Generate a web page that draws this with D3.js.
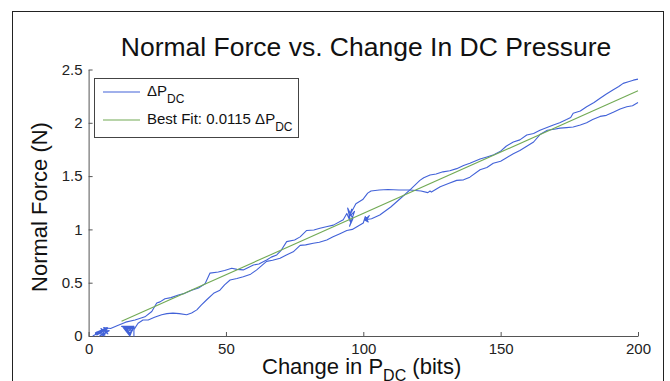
<!DOCTYPE html>
<html>
<head>
<meta charset="utf-8">
<script src="https://cdn.jsdelivr.net/npm/d3@7"></script>
<style>
  html, body { margin: 0; padding: 0; background: #fff; }
  svg { display: block; font-family: "Liberation Sans", Arial, sans-serif; }
</style>
</head>
<body>
<script>
// Branch that starts near the fit line (first noise blob near x=5), ends low at x=200
var branchAX = [1.5, 6, 3, 7, 2.5, 6.5, 4, 7.5, 3, 5.5, 6.8, 2.5, 6, 4.5, 7, 5.5, 8, 10.8, 13.5, 16.9, 20.5, 23, 24.8, 26, 27.8, 30, 32.7, 35, 37.5, 40, 42.4, 44.2, 47.2, 49.5, 52.1, 54, 56.3, 60, 62, 64.8, 66.5, 68.5, 70, 72.1, 75, 77, 79.4, 82, 84.2, 86.5, 89.1, 92.7, 94, 95.5, 94.3, 96.2, 95, 96.8, 94.6, 95.8, 95, 97.3, 99.8, 101.6, 102.8, 105.8, 109, 113, 117, 121, 123.5, 124.3, 124.8, 128, 131, 134, 136.5, 138.8, 142.5, 145, 147.3, 150, 152, 154.6, 157, 159.5, 162, 164.3, 167, 169.5, 171.6, 174, 176.4, 179, 181.3, 183.5, 186.2, 188.5, 191, 193.5, 195.9, 198, 200];
var branchAF = [0.0, 0.06, 0.01, 0.07, 0.02, 0.03, 0.0, 0.05, 0.04, 0.0, 0.08, 0.03, 0.01, 0.07, 0.02, 0.08, 0.07, 0.10, 0.13, 0.15, 0.18, 0.23, 0.31, 0.32, 0.35, 0.36, 0.385, 0.40, 0.43, 0.45, 0.49, 0.59, 0.60, 0.615, 0.635, 0.625, 0.62, 0.666, 0.675, 0.713, 0.74, 0.76, 0.80, 0.885, 0.90, 0.93, 0.99, 0.995, 1.01, 1.025, 1.04, 1.09, 1.15, 1.06, 1.20, 1.10, 1.03, 1.17, 1.11, 1.19, 1.13, 1.24, 1.28, 1.34, 1.36, 1.37, 1.375, 1.37, 1.37, 1.36, 1.345, 1.36, 1.35, 1.40, 1.43, 1.46, 1.465, 1.49, 1.56, 1.58, 1.62, 1.64, 1.67, 1.71, 1.74, 1.78, 1.82, 1.89, 1.93, 1.94, 1.95, 1.955, 1.96, 1.98, 2.0, 2.03, 2.06, 2.07, 2.10, 2.13, 2.15, 2.16, 2.19];

// Branch with the low bulge (second noise blob near x=15), ends high at x=200
var branchBX = [12, 16.5, 15, 12.4, 16.3, 14.8, 12.8, 16.1, 14.9, 13.3, 16, 15, 13.8, 16.5, 14.3, 15.6, 12, 16.5, 16.5, 16.5, 18, 19.8, 21.7, 24, 26.6, 28.5, 30.7, 33, 35.7, 37.5, 39.4, 41, 43, 45.5, 47.8, 49.5, 51.5, 54, 56.3, 59, 61.2, 63, 64.8, 67, 69.7, 72, 74.5, 77, 79, 81.8, 84, 86.7, 89, 91.5, 94, 96, 98, 100, 100.7, 101.8, 100.4, 102.2, 101, 100.8, 103, 106, 110, 113.5, 117, 120.6, 122, 124.3, 126.5, 129, 131.5, 134, 136.5, 138.8, 142.5, 145, 147.5, 149.8, 152, 154.6, 157, 159.5, 162, 164.3, 169.2, 171.5, 174, 175.5, 176.4, 179, 181.3, 184, 186.2, 188.5, 191, 193, 194.6, 196.5, 198.3, 200];
var branchBF = [0.09, 0.09, 0.0, 0.085, 0.08, 0.01, 0.075, 0.07, 0.02, 0.065, 0.05, 0.03, 0.06, 0.09, 0.04, 0.08, 0.09, 0.09, 0.0, 0.06, 0.12, 0.15, 0.15, 0.175, 0.20, 0.21, 0.215, 0.21, 0.20, 0.215, 0.245, 0.29, 0.34, 0.40, 0.43, 0.48, 0.525, 0.54, 0.556, 0.58, 0.62, 0.66, 0.70, 0.71, 0.73, 0.76, 0.79, 0.85, 0.855, 0.87, 0.88, 0.90, 0.93, 0.96, 0.99, 1.0, 1.03, 1.06, 1.12, 1.07, 1.09, 1.13, 1.08, 1.09, 1.10, 1.135, 1.21, 1.29, 1.37, 1.46, 1.485, 1.51, 1.52, 1.54, 1.55, 1.57, 1.60, 1.62, 1.66, 1.68, 1.70, 1.73, 1.78, 1.82, 1.84, 1.885, 1.90, 1.93, 1.98, 2.0, 2.03, 2.05, 2.09, 2.11, 2.15, 2.19, 2.23, 2.27, 2.31, 2.34, 2.37, 2.385, 2.40, 2.41];

// Best fit: 0.0115 * dP
var fitX = [12, 200];
var fitF = [0.138, 2.30];

var xTicks = [0, 50, 100, 150, 200];
var yTicks = [0, 0.5, 1, 1.5, 2, 2.5];

var width = 670, height = 381;
var blue = "#4262d8", green = "#72aa55";

var svg = d3.select("body").append("svg")
    .attr("width", width)
    .attr("height", height);

// outer figure frame
svg.append("rect")
    .attr("x", 12.5).attr("y", 11.5)
    .attr("width", 651).attr("height", 400)
    .attr("fill", "none")
    .attr("stroke", "#222")
    .attr("stroke-width", 1);

var x = d3.scaleLinear().domain([0, 200]).range([88.6, 638]);
var y = d3.scaleLinear().domain([0, 2.5]).range([336, 69.5]);

// axes (MATLAB style, ticks pointing in)
var xAxis = svg.append("g")
    .attr("transform", "translate(0," + y(0) + ")")
    .call(d3.axisBottom(x).tickValues(xTicks).tickSizeInner(-4).tickSizeOuter(0).tickPadding(7).tickFormat(d3.format("d")));
var yAxis = svg.append("g")
    .attr("transform", "translate(" + x(0) + ",0)")
    .call(d3.axisLeft(y).tickValues(yTicks).tickSizeInner(-4).tickSizeOuter(0).tickPadding(6).tickFormat(function(d) { return d; }));

[xAxis, yAxis].forEach(function(g) {
    g.select(".domain").attr("stroke", "#555");
    g.selectAll(".tick line").attr("stroke", "#555");
    g.selectAll(".tick text")
        .attr("fill", "#222")
        .style("font-family", "'Liberation Sans', Arial, sans-serif")
        .style("font-size", "15px");
});

// data lines
var line = d3.line()
    .x(function(d) { return x(d[0]); })
    .y(function(d) { return y(d[1]); });

var branchA = branchAX.map(function(v, i) { return [v, branchAF[i]]; });
var branchB = branchBX.map(function(v, i) { return [v, branchBF[i]]; });
var fit = fitX.map(function(v, i) { return [v, fitF[i]]; });

svg.selectAll(".branch")
    .data([branchA, branchB])
    .enter().append("path")
    .attr("class", "branch")
    .attr("d", line)
    .attr("fill", "none")
    .attr("stroke", blue)
    .attr("stroke-width", 1.1)
    .attr("stroke-linejoin", "round");

svg.append("path")
    .attr("d", line(fit))
    .attr("fill", "none")
    .attr("stroke", green)
    .attr("stroke-width", 1.1);

// title
svg.append("text")
    .attr("x", 366).attr("y", 56)
    .attr("text-anchor", "middle")
    .style("font-size", "26.5px")
    .attr("fill", "#111")
    .text("Normal Force vs. Change In DC Pressure");

// y label
svg.append("text")
    .attr("transform", "translate(47,207) rotate(-90)")
    .attr("text-anchor", "middle")
    .style("font-size", "22px")
    .attr("fill", "#111")
    .text("Normal Force (N)");

// x label with subscript
var xl = svg.append("text")
    .attr("x", 262).attr("y", 374)
    .style("font-size", "22px")
    .attr("fill", "#111");
xl.append("tspan").text("Change in P");
xl.append("tspan").attr("dy", 7).style("font-size", "16px").text("DC");
xl.append("tspan").attr("dy", -7).text(" (bits)");

// legend
var legend = svg.append("g");
legend.append("rect")
    .attr("x", 94.5).attr("y", 78.5)
    .attr("width", 204).attr("height", 59)
    .attr("fill", "#fff")
    .attr("stroke", "#444");

var legendItems = [
    { color: blue, label: "\u0394P", y: 92 },
    { color: green, label: "Best Fit: 0.0115 \u0394P", y: 120 }
];
legendItems.forEach(function(item) {
    legend.append("line")
        .attr("x1", 103).attr("x2", 140)
        .attr("y1", item.y).attr("y2", item.y)
        .attr("stroke", item.color)
        .attr("stroke-width", 1.2);
    var t = legend.append("text")
        .attr("x", 147).attr("y", item.y + 4)
        .style("font-size", "15px")
        .attr("fill", "#111");
    t.append("tspan").text(item.label);
    t.append("tspan").attr("dy", 7).style("font-size", "12px").text("DC");
});
</script>
</body>
</html>
